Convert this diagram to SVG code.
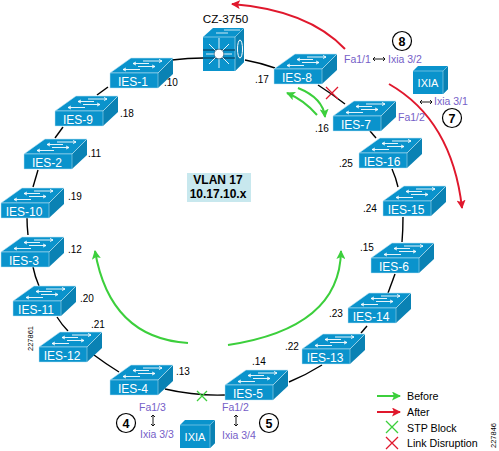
<svg xmlns="http://www.w3.org/2000/svg" width="499" height="451" viewBox="0 0 499 451">
<style>
text{font-family:"Liberation Sans",Arial,sans-serif}
.ring{fill:none;stroke:#000;stroke-width:1.4}
.nl{fill:#fff;font-size:12px;text-anchor:middle}
.ip{fill:#000;font-size:10px}
.pl{fill:#7560c8;font-size:10.5px}
.lg{fill:#000;font-size:10.7px}
.g{fill:none;stroke:#3ccf3c;stroke-width:2}
.r{fill:none;stroke:#e0182d;stroke-width:2}
.dbl{fill:none;stroke:#000;stroke-width:.9}
.cn{fill:#fff;stroke:#000;stroke-width:1.2}
.cnt{fill:#000;font-size:12.5px;font-weight:bold;text-anchor:middle}
.f{fill:#0a93cc}.t{fill:#0a93cc;stroke:#bfe6f5;stroke-width:.6}.s{fill:#0a82b4}
.ar{fill:none;stroke:#fff;stroke-width:.9}
</style>
<defs>
<marker id="mg" markerWidth="9" markerHeight="9" refX="8" refY="4.500" orient="auto" markerUnits="userSpaceOnUse"><path d="M0 0L9 4.500L0 9L2 4.500Z" fill="#3ccf3c"/></marker>
<marker id="mr" markerWidth="9" markerHeight="9" refX="8" refY="4.500" orient="auto" markerUnits="userSpaceOnUse"><path d="M0 0L9 4.500L0 9L2 4.500Z" fill="#e0182d"/></marker>
<g id="sw">
<path class="t" d="M0 0L21-15H63L48 0Z"/>
<path class="s" d="M48 0L63-15V1L48 15Z"/>
<rect class="f" width="48" height="15"/>
<path d="M0 0H48V15H0Z" fill="none" stroke="#bfe6f5" stroke-width=".5"/>
<path d="M48 0L63-15" stroke="#bfe6f5" stroke-width=".6"/>
<path class="ar" d="M33-12H52l-3-1.500M52-12l-3 1.500M23-9.500H39M23-9.500l3-1.500M23-9.500l3 1.500M28-6.500H45l-3-1.500M45-6.500l-3 1.500M13-3.500H30M13-3.500l3-1.500M13-3.500l3 1.500"/>
</g>
<g id="ixia">
<path fill="#0a93cc" d="M0 0L5-5H35V18L30 23H0Z"/>
<path fill="#0a82b4" d="M30 0L35-5V18L30 23Z"/>
<path d="M0 0H30L35-5M30 0V23" fill="none" stroke="#bfe6f5" stroke-width=".5"/>
</g>
</defs>

<g id="connectors">
<path class="ring" d="M203 58Q188 58 172 60"/>
<path class="ring" d="M108 87L97 95"/>
<path class="ring" d="M63 127L55 138"/>
<path class="ring" d="M38 170L33 187"/>
<path class="ring" d="M27 218Q27 226 28 235"/>
<path class="ring" d="M33 267Q35 277 39 286"/>
<path class="ring" d="M57 317Q62 325 68 331"/>
<path class="ring" d="M94 355Q106 364 119 372"/>
<path class="ring" d="M165 389Q195 396 225 395"/>
<path class="ring" d="M289 382Q306 375 322 365"/>
<path class="ring" d="M367 326L361 333"/>
<path class="ring" d="M395 274L388 293"/>
<path class="ring" d="M403 217Q403 230 402 242"/>
<path class="ring" d="M392 169Q396 178 398 187"/>
<path class="ring" d="M370 131L376 138"/>
<path class="ring" d="M318 85Q332 94 345 104"/>
<path class="ring" d="M245 60Q261 63 275 68"/>
<path class="g" marker-end="url(#mg)" d="M188 343Q110 338 95 251"/>
<path class="g" marker-end="url(#mg)" d="M228 345Q340 328 341 251"/>
<path class="g" marker-end="url(#mg)" d="M298 88Q323 98 325 117"/>
<path class="g" marker-end="url(#mg)" d="M317 115Q304 100 287 93"/>
<path class="r" marker-end="url(#mr)" d="M345 49Q308 10 232 4"/>
<path class="r" marker-end="url(#mr)" d="M389 84Q452 120 462 208"/>
<path d="M326 87L338 99M338 87L326 99" stroke="#e0182d" stroke-width="1.300" fill="none"/>
<path d="M197 391L207 401M207 391L197 401" stroke="#3ccf3c" stroke-width="1.300" fill="none"/>
<path class="dbl" d="M373 59H385M375 57L373 59L375 61M383 57L385 59L383 61"/>
<path class="dbl" d="M420 102H432M422 100L420 102L422 104M430 100L432 102L430 104"/>
<path class="dbl" d="M153 415V426M151 417L153 415L155 417M151 424L153 426L155 424"/>
<path class="dbl" d="M236 415V426M234 417L236 415L238 417M234 424L236 426L238 424"/>
</g>

<g id="cz3750">
<path fill="#0a93cc" d="M203 37L213 28H244V62L235 71H203Z"/>
<path fill="#0a82b4" d="M235 37L244 28V62L235 71Z"/>
<path d="M203 37H235L244 28M235 37V71" fill="none" stroke="#bfe6f5" stroke-width=".6"/>
<path d="M203 50H235M203 58H235" stroke="#06304a" stroke-width="1"/>
<path d="M219 38V68M206 54H232M209 44L229 64M229 44L209 64" stroke="#fff" stroke-width=".9"/>
<circle cx="219" cy="54" r="4.800" fill="#fff" stroke="#06304a" stroke-width=".5"/>
<path d="M216 33H228M224 30H240" stroke="#fff" stroke-width=".8"/>
<ellipse cx="240" cy="49" rx="2.500" ry="9" fill="none" stroke="#fff" stroke-width="1"/>
<text x="225.500" y="23" font-size="11.700" text-anchor="middle" fill="#000">CZ-3750</text>
</g>
<g id="ies8"><use href="#sw" x="274" y="69"/><text class="nl" x="297" y="81.500">IES-8</text></g>
<g id="ies7"><use href="#sw" x="333" y="116"/><text class="nl" x="356" y="128.500">IES-7</text></g>
<g id="ies16"><use href="#sw" x="359" y="153"/><text class="nl" x="382" y="165.500">IES-16</text></g>
<g id="ies15"><use href="#sw" x="383" y="201"/><text class="nl" x="406" y="213.500">IES-15</text></g>
<g id="ies6"><use href="#sw" x="371" y="258"/><text class="nl" x="394" y="270.500">IES-6</text></g>
<g id="ies14"><use href="#sw" x="348" y="308"/><text class="nl" x="371" y="320.500">IES-14</text></g>
<g id="ies13"><use href="#sw" x="302" y="349"/><text class="nl" x="325" y="361.500">IES-13</text></g>
<g id="ies5"><use href="#sw" x="225" y="385"/><text class="nl" x="248" y="397.500">IES-5</text></g>
<g id="ies4"><use href="#sw" x="110" y="380"/><text class="nl" x="133" y="392.500">IES-4</text></g>
<g id="ies12"><use href="#sw" x="39" y="347"/><text class="nl" x="62" y="359.500">IES-12</text></g>
<g id="ies11"><use href="#sw" x="13" y="301"/><text class="nl" x="36" y="313.500">IES-11</text></g>
<g id="ies3"><use href="#sw" x="1" y="252"/><text class="nl" x="24" y="264.500">IES-3</text></g>
<g id="ies10"><use href="#sw" x="1" y="203"/><text class="nl" x="24" y="215.500">IES-10</text></g>
<g id="ies2"><use href="#sw" x="24" y="154"/><text class="nl" x="47" y="166.500">IES-2</text></g>
<g id="ies9"><use href="#sw" x="55" y="111"/><text class="nl" x="78" y="123.500">IES-9</text></g>
<g id="ies1"><use href="#sw" x="110" y="73"/><text class="nl" x="133" y="85.500">IES-1</text></g>

<g id="ixia-top"><use href="#ixia" x="413" y="71"/><text x="428" y="87" font-size="11" fill="#fff" text-anchor="middle">IXIA</text></g>
<g id="ixia-bottom"><use href="#ixia" x="180" y="425"/><text x="195" y="441" font-size="11" fill="#fff" text-anchor="middle">IXIA</text></g>

<g id="vlan">
<rect x="187" y="173" width="64" height="29" fill="#c8e8ee"/>
<text x="218" y="184" font-size="12" font-weight="bold" text-anchor="middle" fill="#000">VLAN 17</text>
<text x="218" y="198" font-size="12" font-weight="bold" text-anchor="middle" fill="#000">10.17.10.x</text>
</g>

<g id="addresses">
<text class="ip" x="164" y="86">.10</text><text class="ip" x="120" y="117">.18</text>
<text class="ip" x="88" y="157">.11</text><text class="ip" x="68" y="200">.19</text>
<text class="ip" x="68" y="253">.12</text><text class="ip" x="80" y="302">.20</text>
<text class="ip" x="91" y="328">.21</text><text class="ip" x="176" y="375">.13</text>
<text class="ip" x="252" y="365">.14</text><text class="ip" x="285" y="350">.22</text>
<text class="ip" x="329" y="317">.23</text><text class="ip" x="360" y="251">.15</text>
<text class="ip" x="363" y="212">.24</text><text class="ip" x="339" y="167">.25</text>
<text class="ip" x="315" y="132">.16</text><text class="ip" x="255" y="83">.17</text>
</g>

<g id="ports">
<text class="pl" x="344" y="63">Fa1/1</text><text class="pl" x="388" y="63">Ixia 3/2</text>
<text class="pl" x="434" y="105">Ixia 3/1</text><text class="pl" x="398" y="121">Fa1/2</text>
<text class="pl" x="139" y="411">Fa1/3</text><text class="pl" x="140" y="438">Ixia 3/3</text>
<text class="pl" x="222" y="411">Fa1/2</text><text class="pl" x="222" y="439">Ixia 3/4</text>
</g>

<g id="callouts">
<circle class="cn" cx="402" cy="41" r="9.500"/><text class="cnt" x="402" y="45.500">8</text>
<circle class="cn" cx="452" cy="118" r="9.500"/><text class="cnt" x="452" y="122.500">7</text>
<circle class="cn" cx="126" cy="423" r="9.500"/><text class="cnt" x="126" y="427.500">4</text>
<circle class="cn" cx="269" cy="423" r="9.500"/><text class="cnt" x="269" y="427.500">5</text>
</g>

<g id="legend">
<path class="g" marker-end="url(#mg)" d="M377 396H400"/>
<path class="r" marker-end="url(#mr)" d="M377 412H400"/>
<path d="M386 421L398 433M398 421L386 433" stroke="#3ccf3c" stroke-width="1.300"/>
<path d="M386 437L398 449M398 437L386 449" stroke="#e0182d" stroke-width="1.300"/>
<text class="lg" x="407" y="400">Before</text><text class="lg" x="407" y="416">After</text>
<text class="lg" x="407" y="432">STP Block</text><text class="lg" x="407" y="447">Link Disruption</text>
</g>

<text transform="translate(33 351) rotate(-90)" font-size="7.500" fill="#000">227861</text>
<text transform="translate(496 448) rotate(-90)" font-size="7.500" fill="#000">227846</text>
</svg>
